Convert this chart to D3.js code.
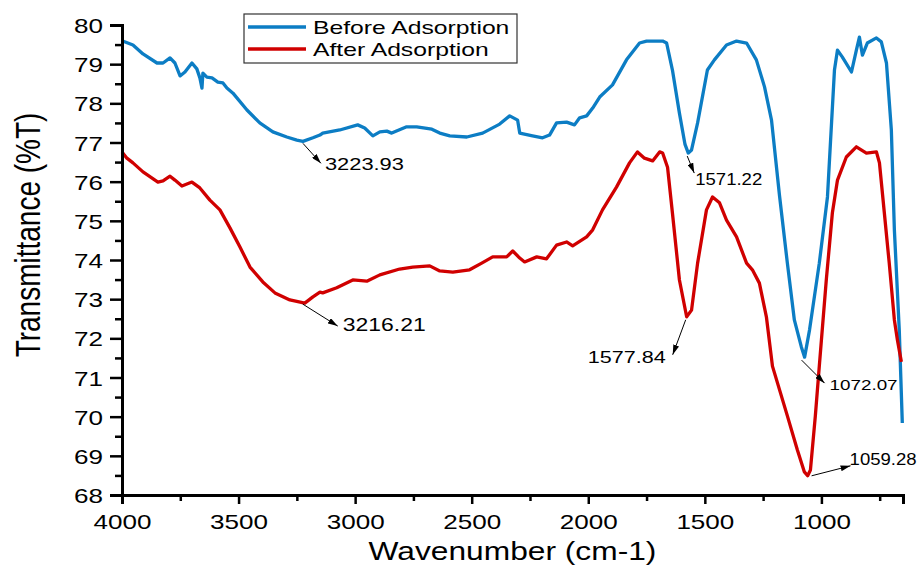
<!DOCTYPE html>
<html>
<head>
<meta charset="utf-8">
<script src="https://cdn.jsdelivr.net/npm/d3@7/dist/d3.min.js"></script>
<style>
  html, body { margin: 0; padding: 0; background: #fff; }
  svg { display: block; font-family: "Liberation Sans", Arial, sans-serif; }
</style>
</head>
<body>
<svg id="chart" width="917" height="566"></svg>
<script>
// FTIR spectra: [wavenumber (cm-1), transmittance (%T)]
const beforeAdsorption = [
  [4000, 79.60], [3953, 79.49], [3910, 79.26], [3850, 79.03], [3824, 79.03], [3794, 79.16],
  [3773, 79.03], [3751, 78.70], [3730, 78.80], [3700, 79.03], [3679, 78.88], [3666, 78.65],
  [3657, 78.39], [3653, 78.77], [3636, 78.67], [3614, 78.65], [3589, 78.54], [3567, 78.52],
  [3550, 78.39], [3524, 78.26], [3464, 77.83], [3409, 77.50], [3353, 77.27], [3293, 77.14],
  [3250, 77.06], [3224, 77.03], [3181, 77.12], [3151, 77.19], [3139, 77.24], [3066, 77.32],
  [2989, 77.45], [2959, 77.37], [2924, 77.17], [2894, 77.27], [2864, 77.29], [2843, 77.24],
  [2779, 77.40], [2736, 77.40], [2671, 77.34], [2637, 77.24], [2594, 77.17], [2521, 77.14],
  [2453, 77.24], [2380, 77.47], [2337, 77.68], [2303, 77.57], [2294, 77.24], [2239, 77.17],
  [2196, 77.12], [2166, 77.19], [2136, 77.50], [2093, 77.52], [2059, 77.45], [2037, 77.63],
  [2007, 77.68], [1981, 77.88], [1951, 78.16], [1896, 78.47], [1836, 79.11], [1780, 79.54],
  [1750, 79.59], [1681, 79.59], [1664, 79.54], [1639, 78.85], [1609, 77.75], [1585, 76.95],
  [1571, 76.73], [1557, 76.81], [1531, 77.50], [1489, 78.85], [1459, 79.11], [1407, 79.49],
  [1364, 79.59], [1321, 79.54], [1279, 79.11], [1244, 78.42], [1214, 77.57], [1180, 75.66],
  [1146, 73.92], [1116, 72.47], [1086, 71.78], [1072, 71.52], [1051, 72.21], [1009, 73.92],
  [974, 75.61], [944, 78.85], [931, 79.36], [910, 79.18], [871, 78.80], [850, 79.36],
  [837, 79.69], [824, 79.23], [803, 79.54], [764, 79.67], [743, 79.57], [721, 79.03],
  [700, 77.32], [687, 74.77], [666, 72.21], [653, 69.84]
];

const afterAdsorption = [
  [4000, 76.76], [3979, 76.60], [3953, 76.48], [3910, 76.25], [3846, 75.99], [3824, 76.02],
  [3794, 76.14], [3773, 76.04], [3743, 75.89], [3700, 75.99], [3666, 75.84], [3623, 75.53],
  [3580, 75.28], [3537, 74.82], [3494, 74.33], [3451, 73.82], [3396, 73.44], [3344, 73.16],
  [3280, 72.98], [3216, 72.90], [3181, 73.06], [3151, 73.18], [3139, 73.16], [3079, 73.29],
  [3010, 73.49], [2950, 73.46], [2894, 73.62], [2809, 73.77], [2753, 73.82], [2680, 73.85],
  [2637, 73.72], [2581, 73.69], [2509, 73.75], [2457, 73.92], [2410, 74.08], [2350, 74.08],
  [2324, 74.23], [2294, 74.05], [2273, 73.95], [2221, 74.08], [2179, 74.03], [2136, 74.38],
  [2093, 74.46], [2067, 74.36], [2007, 74.59], [1981, 74.77], [1939, 75.28], [1879, 75.86],
  [1823, 76.48], [1789, 76.76], [1759, 76.60], [1724, 76.53], [1694, 76.76], [1681, 76.73],
  [1660, 76.37], [1639, 75.20], [1609, 73.49], [1578, 72.55], [1557, 72.72], [1531, 73.92],
  [1493, 75.28], [1467, 75.61], [1437, 75.46], [1407, 75.02], [1364, 74.59], [1321, 73.92],
  [1296, 73.75], [1266, 73.41], [1236, 72.55], [1210, 71.29], [1146, 70.02], [1103, 69.15],
  [1073, 68.59], [1059, 68.49], [1047, 68.64], [1026, 70.02], [1009, 71.29], [979, 73.49],
  [953, 75.20], [931, 76.04], [893, 76.63], [850, 76.89], [807, 76.73], [764, 76.76],
  [751, 76.48], [730, 75.20], [709, 73.92], [687, 72.47], [674, 71.96], [657, 71.40]
];

const seriesNames = ["Before Adsorption", "After Adsorption"];
const xTicks = [4000, 3500, 3000, 2500, 2000, 1500, 1000];
const yTicks = [68, 69, 70, 71, 72, 73, 74, 75, 76, 77, 78, 79, 80];

// labelled band minima: [series index, wavenumber, %T]
const peaks = [
  [0, 3223.93, 77.03],
  [1, 3216.21, 72.90],
  [0, 1571.22, 76.73],
  [1, 1577.84, 72.55],
  [0, 1072.07, 71.52],
  [1, 1059.28, 68.49]
];

// ---- layout ----
const svg = d3.select("#chart");
const margin = { left: 122, right: 14, top: 25, bottom: 71 };
const W = 917, H = 566;
const colors = ["#0c7dc4", "#d00000"];

const x = d3.scaleLinear().domain([4000, 650]).range([margin.left, W - margin.right]);
const y = d3.scaleLinear().domain([68, 80]).range([H - margin.bottom, margin.top]);

// widen glyphs horizontally by factor k (keeps the text's anchor)
function widen(sel, k) {
  sel.each(function () {
    const w = this.getComputedTextLength();
    d3.select(this).attr("textLength", w * k).attr("lengthAdjust", "spacingAndGlyphs");
  });
}
function fitWidth(sel, target) {
  sel.attr("textLength", target).attr("lengthAdjust", "spacingAndGlyphs");
}

// arrow marker
svg.append("defs").append("marker")
  .attr("id", "arrowhead")
  .attr("viewBox", "0 0 10 6")
  .attr("refX", 10).attr("refY", 3)
  .attr("markerWidth", 10).attr("markerHeight", 6)
  .attr("markerUnits", "userSpaceOnUse")
  .attr("orient", "auto")
  .append("path").attr("d", "M0,0 L10,3 L0,6 Z").attr("fill", "#000");

// spectra
const line = d3.line().x(d => x(d[0])).y(d => y(d[1]));
[beforeAdsorption, afterAdsorption].forEach((data, i) => {
  svg.append("path")
    .datum(data)
    .attr("fill", "none")
    .attr("stroke", colors[i])
    .attr("stroke-width", 3.3)
    .attr("stroke-linejoin", "round")
    .attr("d", line);
});

// axes
const xMinor = d3.range(3750, 649, -500);
const yMinor = d3.range(68.5, 80, 1);

const xAxisG = svg.append("g").attr("transform", `translate(0,${y(68)})`);
xAxisG.call(d3.axisBottom(x).tickValues(xTicks).tickSize(9).tickPadding(6).tickFormat(d3.format("d")));
xAxisG.append("g").call(d3.axisBottom(x).tickValues(xMinor).tickSize(6).tickFormat(""))
  .select(".domain").remove();

const yAxisG = svg.append("g").attr("transform", `translate(${x(4000)},0)`);
yAxisG.call(d3.axisLeft(y).tickValues(yTicks).tickSize(12).tickPadding(7).tickFormat(d3.format("d")));
yAxisG.append("g").call(d3.axisLeft(y).tickValues(yMinor).tickSize(7).tickFormat(""))
  .select(".domain").remove();

svg.selectAll(".domain").attr("stroke", "#000").attr("stroke-width", 3);
svg.selectAll(".tick line").attr("stroke", "#000").attr("stroke-width", 2.5);
svg.selectAll(".tick text").attr("fill", "#000").attr("font-size", 21)
  .attr("font-family", "'Liberation Sans', Arial, sans-serif");
xAxisG.selectAll(".tick text").attr("dy", "0.9em");
yAxisG.selectAll(".tick text").attr("dy", "0.36em");
widen(svg.selectAll(".tick text"), 1.24);

// axis titles
const xTitle = svg.append("text")
  .attr("x", (x(4000) + x(650)) / 2).attr("y", 560)
  .attr("text-anchor", "middle").attr("font-size", 26)
  .text("Wavenumber (cm-1)");
widen(xTitle, 1.22);
svg.append("text")
  .attr("transform", `translate(40,235) scale(1.22,1) rotate(-90)`)
  .attr("text-anchor", "middle").attr("font-size", 28)
  .text("Transmittance (%T)");

// legend
const legend = svg.append("g");
legend.append("rect")
  .attr("x", 244).attr("y", 14).attr("width", 273).attr("height", 49)
  .attr("fill", "#fff").attr("stroke", "#333").attr("stroke-width", 1.2);
seriesNames.forEach((name, i) => {
  const ly = 27 + i * 22;
  legend.append("line")
    .attr("x1", 248).attr("x2", 306).attr("y1", ly).attr("y2", ly)
    .attr("stroke", colors[i]).attr("stroke-width", 3.5);
  const t = legend.append("text")
    .attr("x", 313).attr("y", ly).attr("dy", "0.36em")
    .attr("font-size", 19).text(name);
  widen(t, 1.3);
});

// peak annotations: arrow start, arrow tip and label offsets from the band minimum
const annotLayout = [
  { s: [0, 2], t: [18, 22], l: [22, 29], anchor: "start", size: 16, w: 79 },
  { s: [-2, 1], t: [33, 23], l: [38, 28], anchor: "start", size: 19, w: 83 },
  { s: [-1, 3], t: [6, 20], l: [7, 32], anchor: "start", size: 16, w: 67 },
  { s: [-1, 3], t: [-14, 38], l: [-21, 46], anchor: "end", size: 17, w: 78 },
  { s: [-3, 3], t: [20, 26], l: [25, 33], anchor: "start", size: 15, w: 68 },
  { s: [4, 0], t: [43, -10], l: [42, -11], anchor: "start", size: 16, w: 67 }
];
peaks.forEach((p, i) => {
  const px = x(p[1]), py = y(p[2]), a = annotLayout[i];
  svg.append("line")
    .attr("x1", px + a.s[0]).attr("y1", py + a.s[1])
    .attr("x2", px + a.t[0]).attr("y2", py + a.t[1])
    .attr("stroke", "#000").attr("stroke-width", 1)
    .attr("marker-end", "url(#arrowhead)");
  const t = svg.append("text")
    .attr("x", px + a.l[0]).attr("y", py + a.l[1])
    .attr("text-anchor", a.anchor).attr("font-size", a.size)
    .text(p[1].toFixed(2));
  fitWidth(t, a.w);
});
</script>
</body>
</html>
